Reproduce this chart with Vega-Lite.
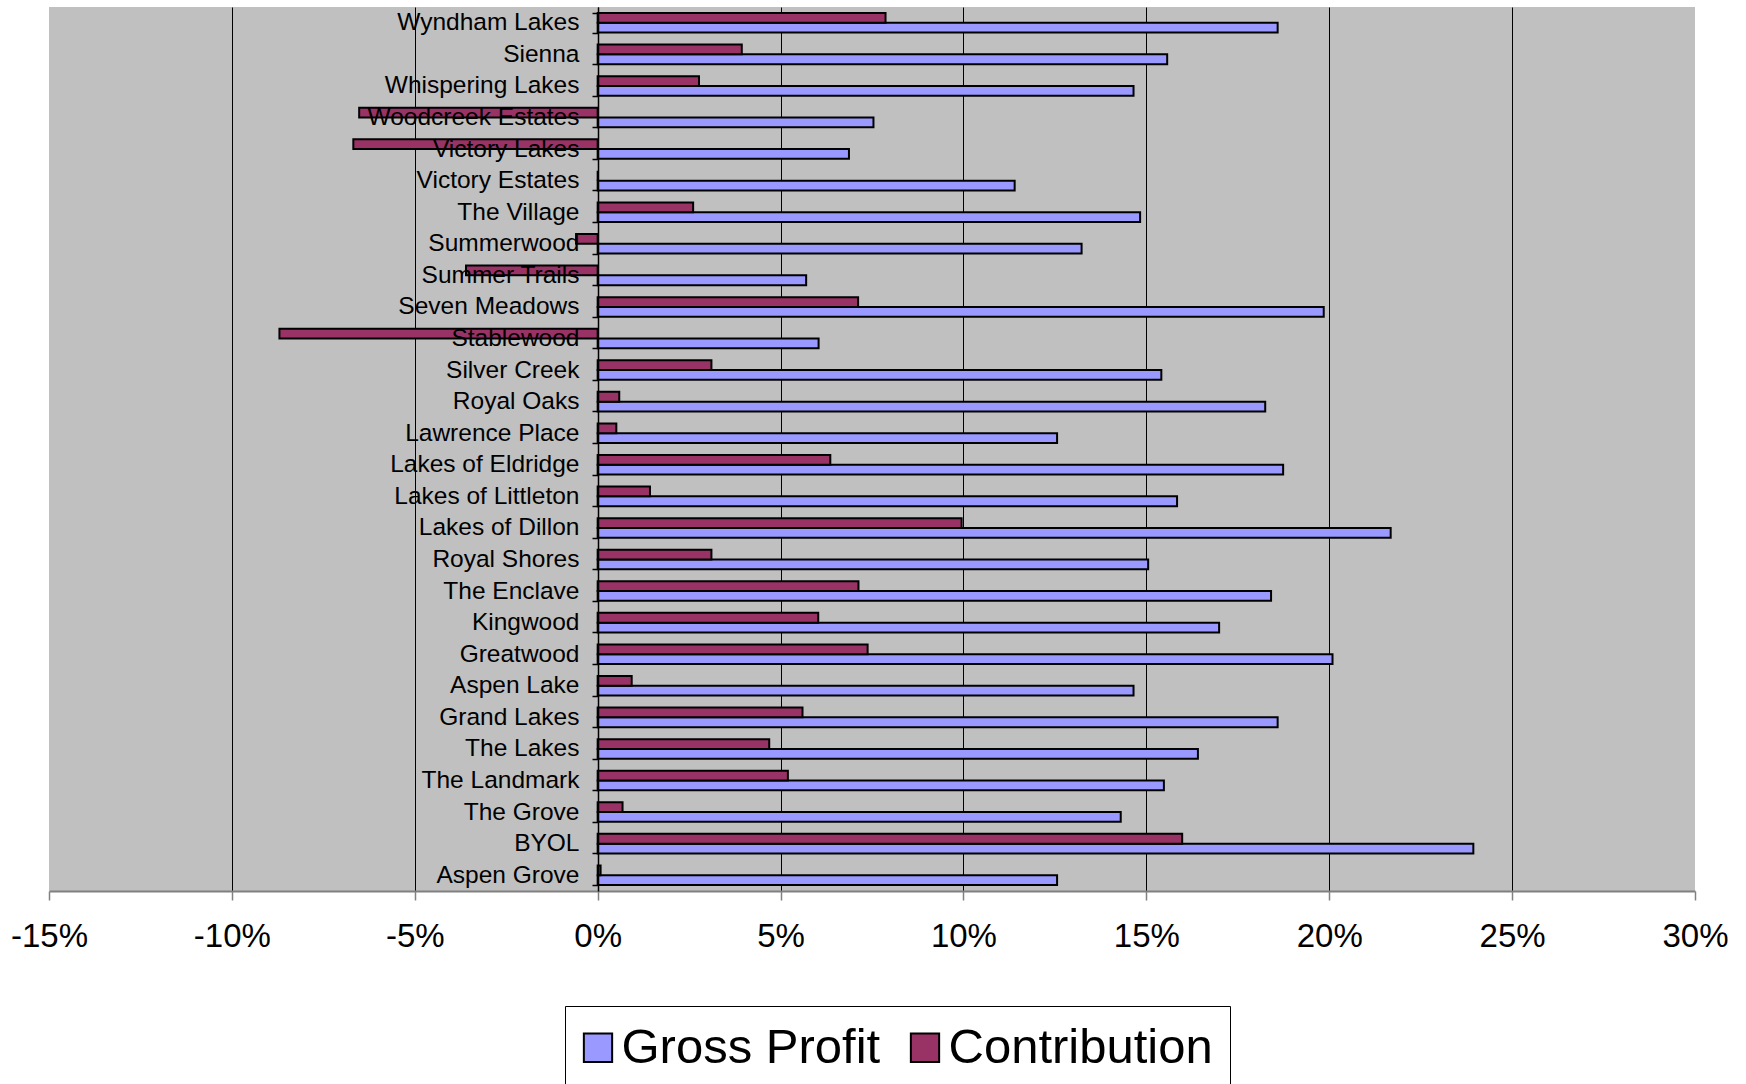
{
  "$schema": "https://vega.github.io/schema/vega-lite/v6.json",
  "width": 1646,
  "height": 884,
  "autosize": {"type": "none"},
  "padding": {"left": 49, "top": 7, "right": 51, "bottom": 193},
  "background": "white",
  "config": {"view": {"fill": "#C0C0C0", "stroke": null}, "font": "Liberation Sans"},
  "data": {"values": [
    {"name": "Wyndham Lakes", "series": "Gross Profit", "value": 18.59},
    {"name": "Wyndham Lakes", "series": "Contribution", "value": 7.87},
    {"name": "Sienna", "series": "Gross Profit", "value": 15.57},
    {"name": "Sienna", "series": "Contribution", "value": 3.94},
    {"name": "Whispering Lakes ", "series": "Gross Profit", "value": 14.65},
    {"name": "Whispering Lakes ", "series": "Contribution", "value": 2.77},
    {"name": "Woodcreek Estates", "series": "Gross Profit", "value": 7.54},
    {"name": "Woodcreek Estates", "series": "Contribution", "value": -6.52},
    {"name": "Victory Lakes", "series": "Gross Profit", "value": 6.87},
    {"name": "Victory Lakes", "series": "Contribution", "value": -6.68},
    {"name": "Victory  Estates", "series": "Gross Profit", "value": 11.40},
    {"name": "Victory  Estates", "series": "Contribution", "value": 0},
    {"name": "The Village ", "series": "Gross Profit", "value": 14.83},
    {"name": "The Village ", "series": "Contribution", "value": 2.61},
    {"name": "Summerwood", "series": "Gross Profit", "value": 13.23},
    {"name": "Summerwood", "series": "Contribution", "value": -0.59},
    {"name": "Summer Trails", "series": "Gross Profit", "value": 5.70},
    {"name": "Summer Trails", "series": "Contribution", "value": -3.60},
    {"name": "Seven Meadows", "series": "Gross Profit", "value": 19.85},
    {"name": "Seven Meadows", "series": "Contribution", "value": 7.12},
    {"name": "Stablewood ", "series": "Gross Profit", "value": 6.04},
    {"name": "Stablewood ", "series": "Contribution", "value": -8.70},
    {"name": "Silver Creek", "series": "Gross Profit", "value": 15.41},
    {"name": "Silver Creek", "series": "Contribution", "value": 3.11},
    {"name": "Royal Oaks ", "series": "Gross Profit", "value": 18.25},
    {"name": "Royal Oaks ", "series": "Contribution", "value": 0.59},
    {"name": "Lawrence Place", "series": "Gross Profit", "value": 12.56},
    {"name": "Lawrence Place", "series": "Contribution", "value": 0.51},
    {"name": "Lakes of Eldridge ", "series": "Gross Profit", "value": 18.74},
    {"name": "Lakes of Eldridge ", "series": "Contribution", "value": 6.36},
    {"name": "Lakes of Littleton", "series": "Gross Profit", "value": 15.84},
    {"name": "Lakes of Littleton", "series": "Contribution", "value": 1.43},
    {"name": "Lakes of Dillon", "series": "Gross Profit", "value": 21.68},
    {"name": "Lakes of Dillon", "series": "Contribution", "value": 9.95},
    {"name": "Royal Shores", "series": "Gross Profit", "value": 15.05},
    {"name": "Royal Shores", "series": "Contribution", "value": 3.11},
    {"name": "The Enclave", "series": "Gross Profit", "value": 18.41},
    {"name": "The Enclave", "series": "Contribution", "value": 7.13},
    {"name": "Kingwood", "series": "Gross Profit", "value": 16.99},
    {"name": "Kingwood", "series": "Contribution", "value": 6.03},
    {"name": "Greatwood", "series": "Gross Profit", "value": 20.09},
    {"name": "Greatwood", "series": "Contribution", "value": 7.38},
    {"name": "Aspen Lake", "series": "Gross Profit", "value": 14.65},
    {"name": "Aspen Lake", "series": "Contribution", "value": 0.93},
    {"name": "Grand Lakes", "series": "Gross Profit", "value": 18.59},
    {"name": "Grand Lakes", "series": "Contribution", "value": 5.60},
    {"name": "The Lakes", "series": "Gross Profit", "value": 16.41},
    {"name": "The Lakes", "series": "Contribution", "value": 4.69},
    {"name": "The Landmark", "series": "Gross Profit", "value": 15.48},
    {"name": "The Landmark", "series": "Contribution", "value": 5.20},
    {"name": "The Grove", "series": "Gross Profit", "value": 14.30},
    {"name": "The Grove", "series": "Contribution", "value": 0.68},
    {"name": "BYOL", "series": "Gross Profit", "value": 23.94},
    {"name": "BYOL", "series": "Contribution", "value": 15.98},
    {"name": "Aspen Grove", "series": "Gross Profit", "value": 12.56},
    {"name": "Aspen Grove", "series": "Contribution", "value": 0.08}
  ]},
  "mark": {"type": "bar", "stroke": "black", "strokeWidth": 2},
  "encoding": {
    "y": {
      "field": "name",
      "type": "nominal",
      "sort": null,
      "scale": {"paddingInner": 0.38, "paddingOuter": 0.19},
      "axis": {
        "title": null,
        "offset": -549,
        "zindex": 1,
        "grid": false,
        "domainColor": "black",
        "domainWidth": 1.5,
        "tickColor": "black",
        "tickSize": 6,
        "tickWidth": 1.5,
        "tickBand": "extent",
        "labelFontSize": 24.5,
        "labelColor": "black",
        "labelPadding": 13,
        "labelLimit": 400
      }
    },
    "yOffset": {"field": "series", "type": "nominal", "sort": ["Contribution", "Gross Profit"]},
    "x": {
      "field": "value",
      "type": "quantitative",
      "scale": {"domain": [-15, 30], "nice": false},
      "axis": {
        "title": null,
        "zindex": 0,
        "values": [-15, -10, -5, 0, 5, 10, 15, 20, 25, 30],
        "labelExpr": "datum.value + '%'",
        "grid": true,
        "gridColor": "black",
        "gridWidth": 1,
        "gridOpacity": {"condition": {"test": "datum.value == -15 || datum.value == 30", "value": 0}, "value": 1},
        "domainColor": "#808080",
        "domainWidth": 2,
        "tickColor": "#808080",
        "tickSize": 9,
        "tickWidth": 1.5,
        "labelFontSize": 33,
        "labelColor": "black",
        "labelPadding": 20,
        "labelFlush": false
      }
    },
    "color": {
      "field": "series",
      "type": "nominal",
      "scale": {"domain": ["Gross Profit", "Contribution"], "range": ["#9999FF", "#993366"]},
      "legend": {
        "orient": "none",
        "legendX": 516,
        "legendY": 999,
        "direction": "horizontal",
        "title": null,
        "labelFontSize": 49,
        "labelColor": "black",
        "labelLimit": 500,
        "symbolType": "square",
        "symbolSize": 800,
        "symbolFillOpacity": 1,
        "symbolStrokeColor": "black",
        "symbolStrokeWidth": 2,
        "symbolOffset": -8.5,
        "labelOffset": -1,
        "columnPadding": 25,
        "padding": 17,
        "strokeColor": "black",
        "fillColor": "white"
      }
    }
  }
}
